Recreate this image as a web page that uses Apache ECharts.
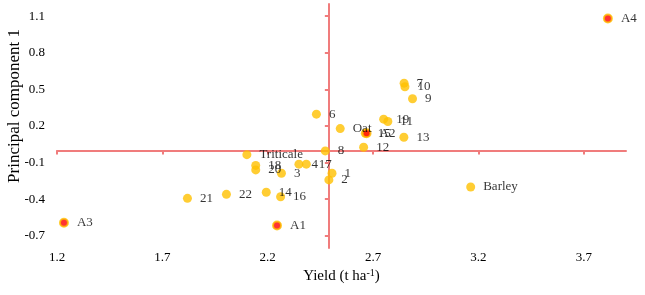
<!DOCTYPE html>
<html>
<head>
<meta charset="utf-8">
<script src="https://cdn.jsdelivr.net/npm/echarts@6/dist/echarts.min.js"></script>
<style>
	html, body { margin: 0; padding: 0; background: #fff; }
	#chart { width: 645px; height: 295px; }
</style>
</head>
<body>
<div id="chart"></div>
<script>
	// genotypes and crop checks (orange points)
	const genoNames = ['1', '2', '3', '4', '6', '7', '8', '9', '10', '11', '12', '13', '14', '15', '16', '17', '18', '19', '20', '21', '22', 'Oat', 'Triticale', 'Barley'];
	const genoYield = [2.505, 2.490, 2.265, 2.348, 2.431, 2.847, 2.473, 2.887, 2.851, 2.770, 2.655, 2.846, 2.193, 2.663, 2.261, 2.383, 2.143, 2.750, 2.143, 1.819, 2.004, 2.544, 2.101, 3.163];
	const genoPC1 = [-0.187, -0.242, -0.187, -0.113, 0.297, 0.551, -0.004, 0.423, 0.522, 0.237, 0.026, 0.108, -0.343, 0.141, -0.380, -0.113, -0.123, 0.256, -0.160, -0.393, -0.360, 0.179, -0.035, -0.300];

	// environments (red points)
	const envNames = ['A1', 'A2', 'A3', 'A4'];
	const envYield = [2.244, 2.669, 1.233, 3.814];
	const envPC1 = [-0.615, 0.141, -0.593, 1.081];

	// tick labels
	const xTicks = [1.2, 1.7, 2.2, 2.7, 3.2, 3.7];
	const yTicks = [-0.7, -0.4, -0.1, 0.2, 0.5, 0.8, 1.1];

	// where the red axes cross
	const crossYield = 2.49;

	const font = '"Liberation Serif", "Times New Roman", serif';
	const axisRed = '#F07C7C';

	const chart = echarts.init(document.getElementById('chart'));

	const labelStyle = {
		show: true,
		position: 'right',
		distance: 8,
		formatter: '{b}',
		fontFamily: font,
		fontSize: 13,
		color: '#000'
	};

	const option = {
		animation: false,
		grid: { left: 57, right: 19, top: 4, bottom: 47, outerBoundsMode: 'none', containLabel: false },
		xAxis: [{
				type: 'value',
				min: 1.2,
				max: 3.9,
				position: 'bottom',
				axisLine: { show: false, onZero: false },
				axisTick: { show: false },
				splitLine: { show: false },
				axisLabel: {
					customValues: xTicks,
					formatter: v => v.toFixed(1),
					margin: 3,
					fontFamily: font,
					fontSize: 13,
					color: '#000'
				},
				name: 'Yield (t ha{sup|-1})',
				nameLocation: 'middle',
				nameGap: 20,
				nameMoveOverlap: false,
				nameTextStyle: {
					fontFamily: font,
					fontSize: 15,
					color: '#000',
					rich: {
						sup: { fontFamily: font, fontSize: 10, verticalAlign: 'top', color: '#000', padding: [0, 0, 6, 0] }
					}
				}
			},
			{
				type: 'value',
				min: 1.2,
				max: 3.9,
				position: 'bottom',
				axisLine: { show: true, onZero: true, lineStyle: { color: axisRed, width: 2 } },
				axisTick: { show: true, customValues: xTicks, length: 4, lineStyle: { color: axisRed, width: 2 } },
				axisLabel: { show: false },
				splitLine: { show: false }
			}
		],
		yAxis: [{
				type: 'value',
				min: -0.8,
				max: 1.2,
				position: 'left',
				axisLine: { show: false },
				axisTick: { show: false },
				splitLine: { show: false },
				axisLabel: {
					customValues: yTicks,
					formatter: v => v.toFixed(1),
					margin: 12,
					fontFamily: font,
					fontSize: 13,
					color: '#000'
				},
				name: 'Principal component 1',
				nameLocation: 'middle',
				nameGap: 34,
				nameMoveOverlap: false,
				nameTextStyle: {
					fontFamily: font,
					fontSize: 17,
					color: '#000',
					padding: [0, 0, 0, 40]
				}
			},
			{
				type: 'value',
				min: -0.8,
				max: 1.2,
				position: 'left',
				offset: 0,
				axisLine: { show: true, onZero: false, lineStyle: { color: axisRed, width: 2 } },
				axisTick: { show: true, customValues: yTicks, length: 4, lineStyle: { color: axisRed, width: 2 } },
				axisLabel: { show: false },
				splitLine: { show: false }
			}
		],
		series: [{
				name: 'genotypes',
				type: 'scatter',
				symbolSize: 9,
				itemStyle: { color: '#FFC000' },
				label: labelStyle,
				data: genoNames.map((n, i) => ({ name: n, value: [genoYield[i], genoPC1[i]] }))
			},
			{
				name: 'environments',
				type: 'scatter',
				symbolSize: 8,
				itemStyle: { color: '#FF0000', borderColor: '#FFC000', borderWidth: 2 },
				label: labelStyle,
				data: envNames.map((n, i) => ({ name: n, value: [envYield[i], envPC1[i]] }))
			}
		]
	};

	chart.setOption(option);

	// move the second y axis onto the crossing yield value
	const px0 = chart.convertToPixel({ xAxisIndex: 0 }, 1.2);
	const px = chart.convertToPixel({ xAxisIndex: 0 }, crossYield);
	chart.setOption({
		yAxis: [{}, { offset: -(px - px0) }]
	});
</script>
</body>
</html>
